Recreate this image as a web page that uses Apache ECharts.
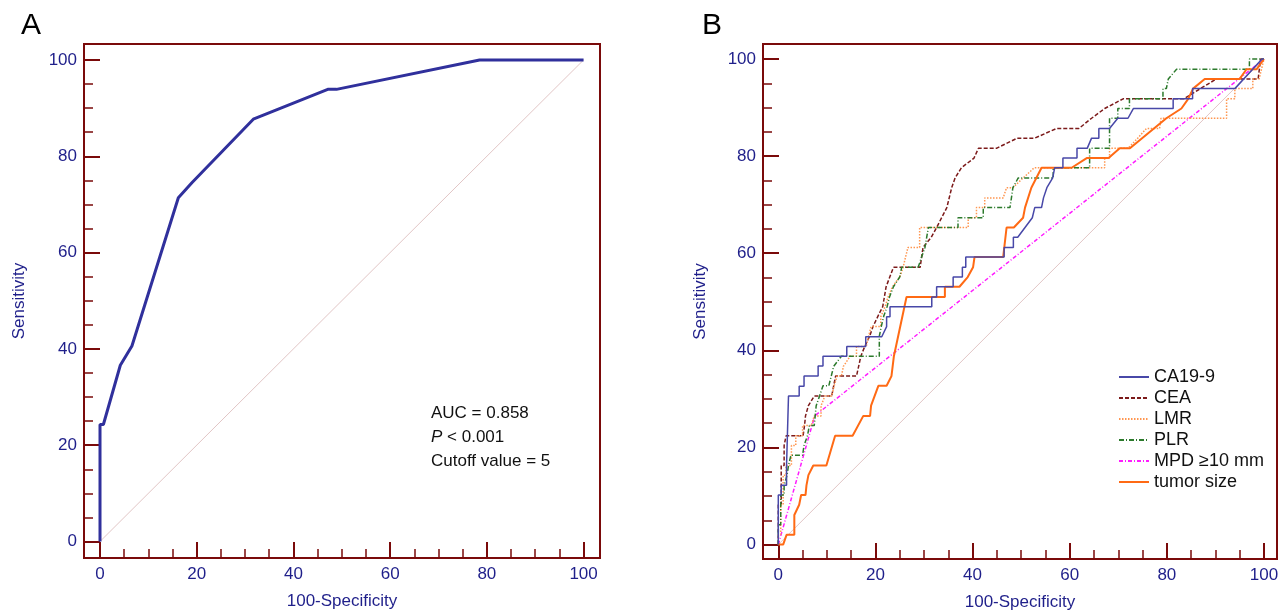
<!DOCTYPE html>
<html>
<head>
<meta charset="utf-8">
<script src="https://cdn.jsdelivr.net/npm/echarts@6/dist/echarts.min.js"></script>
<style>
  html, body { margin: 0; padding: 0; background: #fff; }
  #chart { width: 1278px; height: 610px; }
</style>
</head>
<body>
<div id="chart"></div>
<script>
// tick values shared by both panels
var majorTicks = [0, 20, 40, 60, 80, 100]
var minorTicks = [5, 10, 15, 25, 30, 35, 45, 50, 55, 65, 70, 75, 85, 90, 95]
var diagonal = [[0, 0], [100, 100]]

// panel A: combined model ROC
var rocA = [[0, 0], [0, 24.3], [0.7, 24.3], [4.2, 36.6], [6.6, 40.6], [16.2, 71.4], [19, 74.5],
  [31.7, 87.7], [47.1, 93.9], [48.9, 93.9], [78.5, 100], [100, 100]]

// panel B: single markers
var seriesNames = ['CA19-9', 'CEA', 'LMR', 'PLR', 'MPD ≥10 mm', 'tumor size']
var ca199 = [[0, 0], [0, 10.2], [0.6, 10.2], [0.6, 12.2], [1.7, 12.2], [1.7, 16.3], [2.1, 16.3], [2.1, 30.6],
  [4.3, 30.6], [4.3, 32.6], [5.3, 32.6], [5.3, 34.7], [8.2, 34.7], [8.2, 36.8], [9.2, 36.8], [9.2, 38.8],
  [14.1, 38.8], [14.1, 40.8], [18.0, 40.8], [18.0, 42.8], [21.3, 42.8], [22.3, 44.9], [22.3, 46.9],
  [23.0, 46.9], [23.0, 49.0], [31.6, 49.0], [31.6, 51.0], [32.6, 51.0], [32.6, 53.1], [36.0, 53.1],
  [36.0, 55.1], [37.9, 55.1], [37.9, 57.1], [38.6, 57.1], [38.6, 59.2], [46.5, 59.2], [46.5, 61.2],
  [48.4, 61.2], [48.4, 63.3], [49.3, 63.3], [50.8, 65.3], [52.3, 67.3], [52.8, 69.4], [54.2, 69.4],
  [54.6, 71.4], [55.3, 73.5], [56.5, 75.5], [56.9, 77.6], [58.6, 77.6], [58.6, 79.6], [61.5, 79.6],
  [61.5, 81.6], [63.6, 81.6], [64.5, 83.7], [66.0, 83.7], [66.0, 85.7], [68.2, 85.7], [69.9, 87.8],
  [72.0, 87.8], [73.1, 89.8], [81.3, 89.8], [81.3, 91.8], [85.3, 91.8], [85.3, 93.9], [94.0, 93.9],
  [99.6, 100], [100, 100]]
var cea = [[0, 0], [0, 8.2], [0.6, 8.2], [0.6, 16.3], [1.2, 16.3], [1.2, 20.4], [1.6, 20.4], [1.6, 22.4],
  [5.1, 22.4], [5.4, 24.5], [5.6, 26.5], [6.2, 28.6], [7.4, 30.6], [11.0, 30.6], [11.4, 32.7], [11.8, 34.7],
  [16.1, 34.7], [17.0, 38.8], [17.8, 40.8], [18.8, 42.9], [19.5, 44.9], [20.5, 47.0], [21.5, 49.0],
  [22.2, 53.1], [23.7, 57.1], [29.2, 57.1], [29.8, 61.2], [31.5, 63.3], [32.6, 65.3], [34.7, 69.4],
  [35.7, 73.5], [36.4, 75.5], [37.7, 77.6], [40.3, 79.6], [41.2, 81.6], [44.9, 81.6], [49.2, 83.7],
  [52.8, 83.7], [57.3, 85.7], [61.9, 85.7], [64.5, 87.8], [67.2, 89.8], [71.0, 91.8], [83.5, 91.8],
  [86.9, 93.9], [90.2, 95.9], [98.8, 95.9], [99.3, 100], [100, 100]]
var lmr = [[0, 0], [0, 2], [0.5, 2], [0.5, 8.2], [1.0, 8.2], [1.0, 14.3], [1.6, 14.3], [1.6, 16.3],
  [2.7, 16.3], [2.7, 20.4], [3.6, 20.4], [3.6, 22.4], [5.0, 22.4], [5.0, 24.5], [6.8, 24.5], [7.4, 26.5],
  [8.8, 26.5], [8.8, 28.6], [9.6, 30.6], [11.0, 30.6], [11.5, 32.7], [12.1, 34.7], [13.0, 34.7],
  [13.4, 36.7], [14.8, 38.8], [16.1, 38.8], [16.1, 40.8], [18.1, 40.8], [18.6, 42.9], [19.1, 44.9],
  [21.1, 44.9], [21.1, 46.9], [22.0, 49.0], [22.6, 51.0], [23.5, 53.1], [25.0, 55.1], [25.7, 57.1],
  [26.2, 59.2], [26.7, 61.2], [29.1, 61.2], [29.1, 65.3], [39.1, 65.3], [39.1, 67.3], [40.8, 67.3],
  [40.8, 69.4], [42.5, 69.4], [42.5, 71.4], [46.3, 71.4], [47.0, 73.5], [48.3, 73.5], [50.4, 75.5],
  [52.7, 77.6], [67.2, 77.6], [67.2, 79.6], [68.2, 79.6], [68.2, 81.6], [72.0, 81.6], [74.0, 83.7],
  [75.8, 85.7], [78.5, 85.7], [78.8, 87.8], [92.3, 87.8], [92.3, 91.8], [94.0, 91.8], [94.0, 93.9],
  [97.7, 93.9], [97.7, 95.9], [99.0, 95.9], [100, 100]]
var plr = [[0, 0], [0, 4.1], [0.5, 4.1], [0.5, 10.2], [1.2, 10.2], [1.2, 12.2], [1.8, 14.3], [2.1, 16.3],
  [2.6, 18.4], [5.0, 18.4], [5.3, 20.4], [6.0, 22.4], [6.4, 24.5], [7.4, 24.5], [7.8, 28.6], [8.5, 30.6],
  [9.2, 32.7], [10.4, 32.7], [10.9, 34.7], [11.4, 36.7], [13.0, 38.8], [20.8, 38.8], [20.8, 42.9],
  [21.2, 44.9], [21.7, 47.0], [22.4, 49.0], [22.9, 51.0], [23.7, 53.1], [25.0, 55.1], [25.4, 57.1],
  [28.8, 57.1], [29.5, 59.2], [30.2, 61.2], [30.9, 65.3], [37.0, 65.3], [37.0, 67.3], [42.2, 67.3],
  [42.2, 69.4], [47.7, 69.4], [48.0, 71.4], [48.3, 73.5], [49.4, 75.5], [56.6, 75.5], [56.6, 77.6],
  [64.1, 77.6], [64.1, 81.6], [68.2, 81.6], [68.2, 87.8], [69.9, 87.8], [69.9, 89.8], [72.3, 89.8],
  [72.3, 91.8], [79.2, 91.8], [79.2, 93.9], [79.9, 93.9], [80.3, 95.9], [82.0, 97.9], [97.0, 97.9],
  [97.0, 100], [100, 100]]
var mpd = [[0, 0], [7.5, 26.5], [100, 100]]
var tumorSize = [[0, 0], [1.0, 0], [1.7, 2.0], [3.3, 2.0], [3.3, 6.1], [4.3, 8.2], [4.7, 10.2], [5.6, 10.2],
  [5.8, 12.2], [6.2, 14.3], [7.2, 16.3], [9.9, 16.3], [11.7, 22.4], [15.3, 22.4], [17.5, 26.5],
  [18.9, 26.5], [19.1, 28.6], [20.6, 32.7], [22.3, 32.7], [23.3, 34.7], [23.8, 38.8], [26.4, 51.0],
  [34.3, 51.0], [34.3, 53.1], [37.3, 53.1], [39.0, 55.1], [40.1, 57.1], [40.4, 59.2], [46.3, 59.2],
  [47.0, 65.3], [48.5, 65.3], [50.4, 67.3], [50.8, 69.4], [52.1, 73.5], [54.2, 77.6], [60.4, 77.6],
  [63.5, 79.6], [68.0, 79.6], [70.3, 81.6], [72.4, 81.6], [79.9, 87.8], [83.0, 89.8], [84.4, 91.8],
  [85.4, 93.9], [87.8, 95.9], [95.0, 95.9], [96.4, 97.9], [98.5, 97.9], [100, 100]]

var frameColor = '#7a0a0a'
var labelColor = '#1f1f8a'
var fontFamily = 'Arial, "Liberation Sans", sans-serif'

// each panel gets a major-tick axis (with labels) and a minor-tick axis on top of it
function makeXAxes (gridIndex, min, max) {
  return [
    {
      gridIndex: gridIndex,
      type: 'value',
      position: 'bottom',
      min: min,
      max: max,
      name: '100-Specificity',
      nameLocation: 'middle',
      nameGap: 35,
      nameTextStyle: { color: labelColor, fontSize: 17, fontFamily: fontFamily },
      axisLine: { show: false, onZero: false },
      axisTick: { show: true, inside: true, length: 16, customValues: majorTicks, lineStyle: { color: frameColor, width: 2 } },
      axisLabel: { show: true, customValues: majorTicks, margin: 8, color: labelColor, fontSize: 17, fontFamily: fontFamily },
      splitLine: { show: false }
    },
    {
      gridIndex: gridIndex,
      type: 'value',
      position: 'bottom',
      min: min,
      max: max,
      axisLine: { show: false, onZero: false },
      axisTick: { show: true, inside: true, length: 9, customValues: minorTicks, lineStyle: { color: frameColor, width: 1.5 } },
      axisLabel: { show: false },
      splitLine: { show: false }
    }
  ]
}

function makeYAxes (gridIndex, min, max, nameGap) {
  return [
    {
      gridIndex: gridIndex,
      type: 'value',
      position: 'left',
      min: min,
      max: max,
      name: 'Sensitivity',
      nameLocation: 'middle',
      nameGap: nameGap,
      nameTextStyle: { color: labelColor, fontSize: 17, fontFamily: fontFamily },
      axisLine: { show: false, onZero: false },
      axisTick: { show: true, inside: true, length: 16, customValues: majorTicks, lineStyle: { color: frameColor, width: 2 } },
      axisLabel: { show: true, customValues: majorTicks, margin: 7, color: labelColor, fontSize: 17, fontFamily: fontFamily },
      splitLine: { show: false }
    },
    {
      gridIndex: gridIndex,
      type: 'value',
      position: 'left',
      min: min,
      max: max,
      axisLine: { show: false, onZero: false },
      axisTick: { show: true, inside: true, length: 9, customValues: minorTicks, lineStyle: { color: frameColor, width: 1.5 } },
      axisLabel: { show: false },
      splitLine: { show: false }
    }
  ]
}

function rocLine (name, data, xi, yi, color, width, type) {
  return {
    name: name,
    type: 'line',
    xAxisIndex: xi,
    yAxisIndex: yi,
    data: data,
    symbol: 'none',
    silent: true,
    animation: false,
    lineStyle: { color: color, width: width, type: type },
    itemStyle: { color: color }
  }
}

var myChart = echarts.init(document.getElementById('chart'))

var option = {
  backgroundColor: '#fff',
  animation: false,
  grid: [
    { left: 84, top: 44, width: 516, height: 514, outerBoundsMode: 'none', show: true, borderColor: frameColor, borderWidth: 2, backgroundColor: 'transparent' },
    { left: 763, top: 44, width: 514, height: 515, outerBoundsMode: 'none', show: true, borderColor: frameColor, borderWidth: 2, backgroundColor: 'transparent' }
  ],
  xAxis: makeXAxes(0, -3.31, 103.4).concat(makeXAxes(1, -3.15, 102.68)),
  yAxis: makeYAxes(0, -3.43, 103.32, 56).concat(makeYAxes(1, -2.97, 103.09, 54)),
  legend: {
    data: seriesNames,
    orient: 'vertical',
    left: 1113,
    top: 363,
    itemWidth: 30,
    itemHeight: 2,
    itemGap: 3,
    itemStyle: { opacity: 0 },
    textStyle: { color: '#111', fontSize: 18, fontFamily: fontFamily, lineHeight: 18 }
  },
  graphic: [
    { type: 'text', left: 21, top: 11, style: { text: 'A', fontSize: 30, fontFamily: fontFamily, fill: '#000' } },
    { type: 'text', left: 702, top: 11, style: { text: 'B', fontSize: 30, fontFamily: fontFamily, fill: '#000' } },
    {
      type: 'text',
      left: 431,
      top: 401,
      style: {
        text: 'AUC = 0.858\n{i|P} < 0.001\nCutoff value = 5',
        fontSize: 17,
        lineHeight: 24,
        fontFamily: fontFamily,
        fill: '#111',
        rich: { i: { fontStyle: 'italic', fontSize: 17, fontFamily: fontFamily, fill: '#111' } }
      }
    }
  ],
  series: [
    rocLine('refA', diagonal, 0, 0, '#e2c6c6', 1, 'solid'),
    rocLine('combined', rocA, 0, 0, '#30309c', 3, 'solid'),
    rocLine('refB', diagonal, 2, 2, '#e2c6c6', 1, 'solid'),
    rocLine('MPD ≥10 mm', mpd, 2, 2, '#ff1cff', 1.5, [4, 2, 1, 2]),
    rocLine('CEA', cea, 2, 2, '#7c1a1a', 1.5, [4, 2]),
    rocLine('LMR', lmr, 2, 2, '#ff9650', 1.5, [1.5, 1.5]),
    rocLine('PLR', plr, 2, 2, '#2c7a2c', 1.5, [5, 2, 1, 2]),
    rocLine('tumor size', tumorSize, 2, 2, '#ff6a14', 2, 'solid'),
    rocLine('CA19-9', ca199, 2, 2, '#4848a8', 1.5, 'solid')
  ]
}

myChart.setOption(option)
</script>
</body>
</html>
